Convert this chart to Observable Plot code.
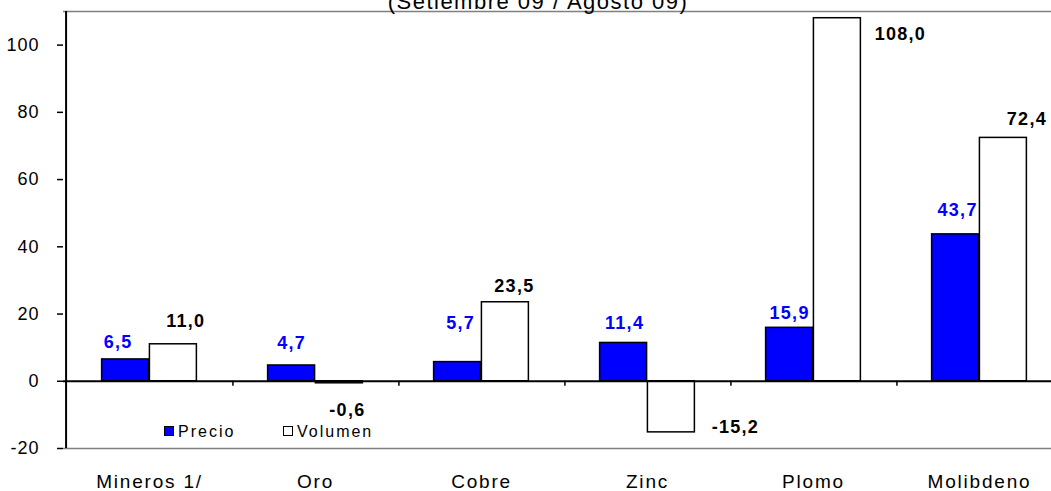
<!DOCTYPE html>
<html><head><meta charset="utf-8">
<script src="https://cdn.jsdelivr.net/npm/d3@7"></script>
<script src="https://cdn.jsdelivr.net/npm/@observablehq/plot@0.6"></script>
<style>
html,body{margin:0;padding:0;background:#fff;overflow:hidden;}
#wrap{position:relative;width:1051px;height:491px;overflow:hidden;font-family:"Liberation Sans",Arial,sans-serif;color:#000;}
#chart svg{max-width:none !important;display:block;}
#chart svg text{letter-spacing:1.3px;}
#chart svg g[aria-label^="x-axis"] text{letter-spacing:1.8px;}
#chart svg g[aria-label^="y-axis"] text{letter-spacing:1px;}
#title{position:absolute;top:-9px;left:538px;transform:translateX(-50%);font-size:22px;line-height:22px;letter-spacing:1.5px;white-space:nowrap;}
.leg{position:absolute;font-size:16px;line-height:16px;letter-spacing:2px;white-space:nowrap;}
.sw{position:absolute;width:10px;height:10px;box-sizing:border-box;border:1px solid #000;}
</style></head>
<body>
<div id="wrap">
  <div id="chart"></div>
  <div id="title">(Setiembre 09 / Agosto 09)</div>
  <div class="sw" style="left:164px;top:426px;background:#0000ff;"></div>
  <div class="leg" style="left:178px;top:423.5px;">Precio</div>
  <div class="sw" style="left:283px;top:426px;background:#fff;"></div>
  <div class="leg" style="left:297px;top:423.5px;">Volumen</div>
</div>
<script>
// ---- data ----
const categories = ["Mineros 1/", "Oro", "Cobre", "Zinc", "Plomo", "Molibdeno"];
const seriesNames = ["Precio", "Volumen"];
const precio  = [6.5, 4.7, 5.7, 11.4, 15.9, 43.7];
const volumen = [11.0, -0.6, 23.5, -15.2, 108.0, 72.4];
const yTicks  = [-20, 0, 20, 40, 60, 80, 100];

// ---- layout (label nudges in px, not data) ----
const nudgePrecio  = [[-7.5,-17],[0,-22],[3,-38.5],[1,-19.4],[0,-15],[2,-24.5]];
const nudgeVolumen = [[12.4,-23],[8,27],[9,-15.7],[64,-5],[63,15.6],[23.5,-19]];

const rows = [];
categories.forEach((c, i) => {
  rows.push({cat: c, series: seriesNames[0], value: precio[i], nudge: nudgePrecio[i]});
  rows.push({cat: c, series: seriesNames[1], value: volumen[i], nudge: nudgeVolumen[i]});
});

const width = 1065, marginLeft = 63, marginRight = 1;
const step = (width - marginLeft - marginRight) / categories.length;
const barW = 47.8;
const outer = (step - 2 * barW) / 2;
const fmt = v => v.toFixed(1).replace(".", ",");
const blue = "#0000ff";

const labelMarks = rows.map(r => {
  const isP = r.series === seriesNames[0];
  return Plot.text([r], {
    x: "cat", y: "value", text: d => fmt(d.value),
    dx: (isP ? -barW / 2 : barW / 2) + r.nudge[0], dy: r.nudge[1],
    fill: isP ? blue : "black", fontWeight: "bold", fontSize: 18
  });
});

const chart = Plot.plot({
  width, height: 491,
  marginLeft, marginRight, marginTop: 11, marginBottom: 43,
  style: {fontFamily: '"Liberation Sans", Arial, sans-serif', color: "black", background: "white", overflow: "visible"},
  x: {type: "band", domain: categories, padding: 0, axis: null},
  y: {domain: [-20, 110], axis: null},
  marks: [
    Plot.ruleY([110, -20], {stroke: "#808080", strokeWidth: 1.5}),
    Plot.barY(rows.filter(r => r.series === seriesNames[0]), {
      x: "cat", y: "value", fill: blue, stroke: "black", strokeWidth: 1.5,
      insetLeft: outer, insetRight: outer + barW
    }),
    Plot.barY(rows.filter(r => r.series === seriesNames[1]), {
      x: "cat", y: "value", fill: "white", stroke: "black", strokeWidth: 1.5,
      insetLeft: outer + barW, insetRight: outer
    }),
    Plot.ruleY([0], {stroke: "black", strokeWidth: 2}),
    Plot.ruleX(categories.slice(0, -1), {dx: step / 2, y1: 0, y2: -1.5, stroke: "black", strokeWidth: 1.5}),
    Plot.ruleX([categories[0]], {dx: -step / 2, stroke: "black", strokeWidth: 2}),
    Plot.axisY({ticks: yTicks, tickSize: 6, tickPadding: 18, fontSize: 18, tickFormat: d => String(d), stroke: "black", strokeWidth: 1.5, label: null}),
    Plot.axisX({tickSize: 0, tickPadding: 26, fontSize: 19, label: null}),
    ...labelMarks
  ]
});
document.getElementById("chart").appendChild(chart);
</script>
</body></html>
